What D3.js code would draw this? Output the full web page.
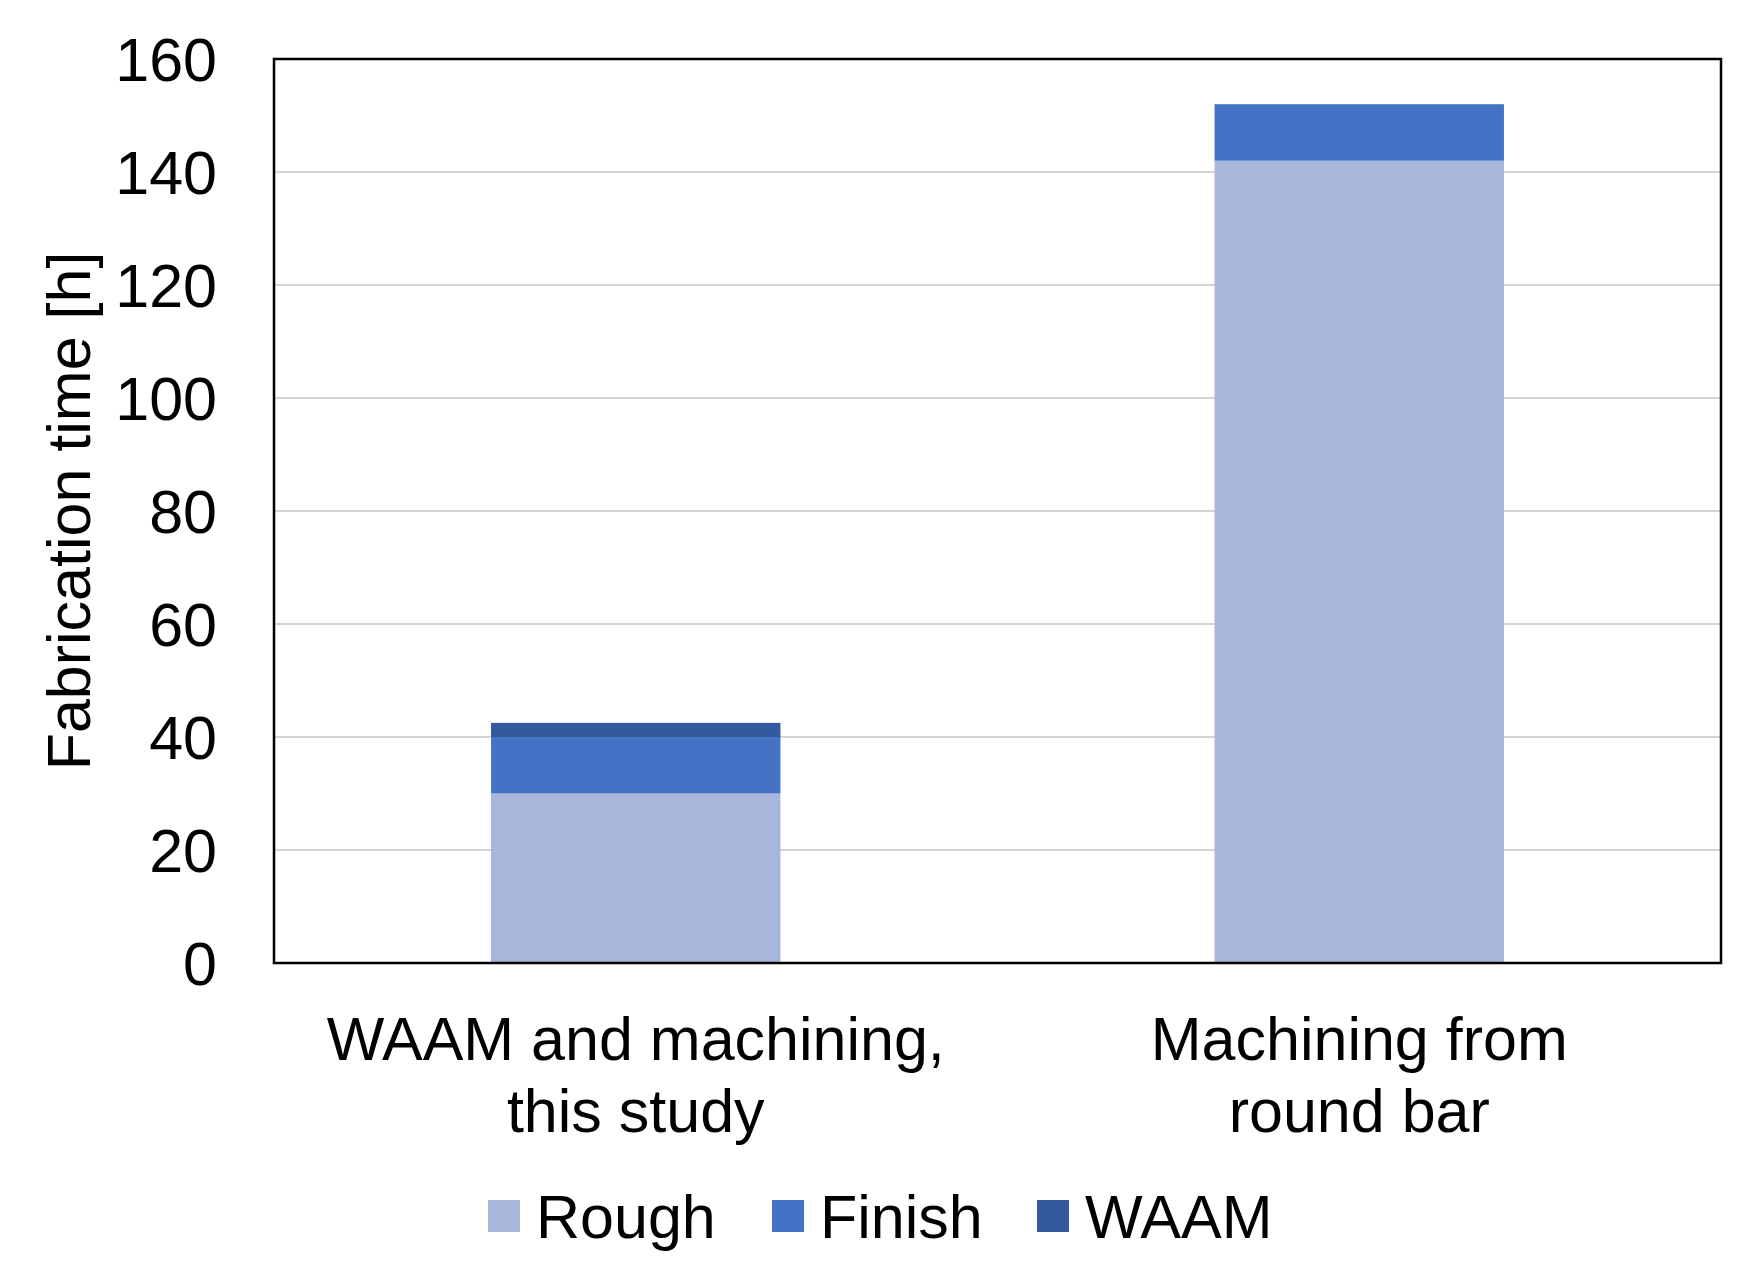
<!DOCTYPE html>
<html>
<head>
<meta charset="utf-8">
<script src="https://cdn.jsdelivr.net/npm/d3@7"></script>
<style>
  html, body { margin: 0; padding: 0; background: #fff; }
  svg { display: block; font-family: "Liberation Sans", Arial, sans-serif; }
</style>
</head>
<body>
<script>
var categories = [["WAAM and machining,", "this study"], ["Machining from", "round bar"]];
var seriesNames = ["Rough", "Finish", "WAAM"];
var rough = [30, 142];
var finish = [10, 10];
var waam = [2.5, 0];
var yTicks = [0, 20, 40, 60, 80, 100, 120, 140, 160];
var colors = ["#a9b6db", "#4472c4", "#335a9e"];

var W = 1757, H = 1271,
    m = {left: 274, right: 36, top: 59, bottom: 308},
    fs = 61;
var svg = d3.select("body").append("svg").attr("width", W).attr("height", H);

var x = d3.scaleBand().domain([0, 1]).range([m.left, W - m.right]).paddingInner(0.6).paddingOuter(0.3);
var y = d3.scaleLinear().domain([0, 160]).range([H - m.bottom, m.top]);

// gridlines
svg.append("g").selectAll("line").data(yTicks.slice(1, -1)).join("line")
  .attr("x1", m.left).attr("x2", W - m.right)
  .attr("y1", d => y(d)).attr("y2", d => y(d))
  .attr("stroke", "#d4d4d4").attr("stroke-width", 2);

var rows = [0, 1].map(i => ({i: i, Rough: rough[i], Finish: finish[i], WAAM: waam[i]}));
var stack = d3.stack().keys(seriesNames)(rows);
svg.append("g").selectAll("g").data(stack).join("g")
  .attr("fill", (d, k) => colors[k])
  .selectAll("rect").data(d => d).join("rect")
  .attr("x", d => x(d.data.i)).attr("width", x.bandwidth())
  .attr("y", d => y(d[1])).attr("height", d => y(d[0]) - y(d[1]));

// frame
svg.append("rect").attr("x", m.left).attr("y", m.top)
  .attr("width", W - m.left - m.right).attr("height", H - m.top - m.bottom)
  .attr("fill", "none").attr("stroke", "#000").attr("stroke-width", 2.5);

// y axis labels
svg.append("g").selectAll("text").data(yTicks).join("text")
  .attr("x", 217).attr("y", d => y(d)).attr("dy", "0.36em")
  .attr("text-anchor", "end").attr("font-size", fs).attr("fill", "#000")
  .text(d => d);

svg.append("text").attr("transform", "translate(90," + y(80) + ") rotate(-90)")
  .attr("text-anchor", "middle").attr("font-size", fs).text("Fabrication time [h]");

// category labels
svg.append("g").selectAll("text").data(categories).join("text")
  .attr("text-anchor", "middle").attr("font-size", fs)
  .attr("x", (d, i) => x(i) + x.bandwidth() / 2).attr("y", 1060)
  .selectAll("tspan").data(d => d).join("tspan")
  .attr("x", function () { return d3.select(this.parentNode).attr("x"); })
  .attr("dy", (d, j) => j ? 72 : 0).text(d => d);

// legend
var legX = [488, 772, 1037];
var leg = svg.append("g").selectAll("g").data(seriesNames).join("g")
  .attr("transform", (d, i) => "translate(" + legX[i] + ",1216)");
leg.append("rect").attr("y", -16).attr("width", 32).attr("height", 32).attr("fill", (d, i) => colors[i]);
leg.append("text").attr("x", 48).attr("dy", "0.36em").attr("font-size", fs).text(d => d);
</script>
</body>
</html>
